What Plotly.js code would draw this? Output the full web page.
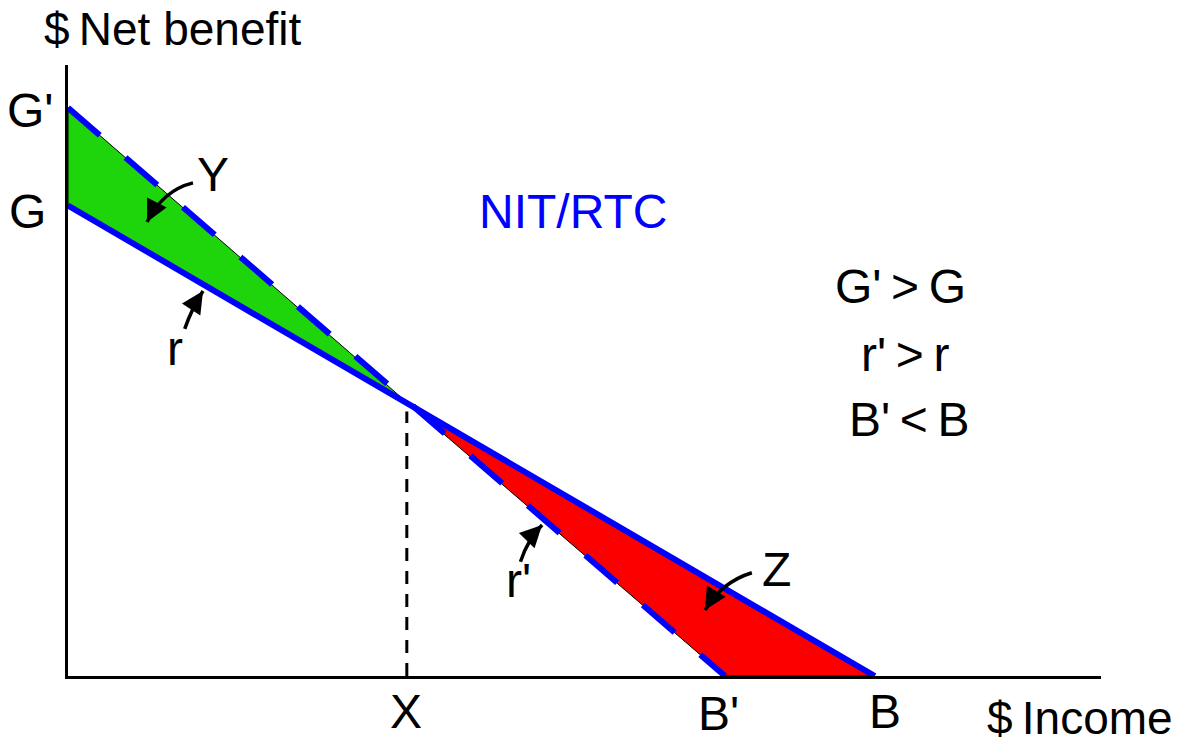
<!DOCTYPE html>
<html>
<head>
<meta charset="utf-8">
<script src="https://cdn.plot.ly/plotly-3.0.1.min.js"></script>
<style>html,body{margin:0;padding:0;background:#fff;}#chart{width:1190px;height:743px;}</style>
</head>
<body>
<div id="chart"></div>
<script>
// ---- data (income on x, net benefit on y; arbitrary $ units, axes run 0..100) ----
var G = 77.0;        // guaranteed benefit, original scheme
var Gp = 93.0;       // guaranteed benefit, new scheme (G')
var B = 78.1;        // break-even income, original
var Bp = 63.6;       // break-even income, new (B')
var X = 32.8;        // income where both schedules cross
var Y0 = 44.8;       // net benefit at X

// area Y (green) and area Z (red)
var areaYx = [0, 0, X, 0];
var areaYy = [Gp, G, Y0, Gp];
var areaZx = [X, Bp, B, X];
var areaZy = [Y0, 0, 0, Y0];

// schedule lines
var solidX = [0, B];  var solidY = [G, 0];
var dashX = [0, Bp];  var dashY = [Gp, 0];
var dropX = [X, X];   var dropY = [0, Y0 - 1.5];

// text labels (positions in axis units)
var labelText = ["$\u2009Net benefit", "G'", "G", "Y", "r", "NIT/RTC", "G'\u2009>\u2009G", "r'\u2009>\u2009r", "B'\u2009<\u2009B", "X", "B'", "B", "$\u2009Income", "Z", "r'"];
var labelX = [10.1, -3.6, -3.9, 14.0, 10.4, 48.9, 80.6, 81.0, 81.4, 32.7, 63.0, 79.1, 98.0, 68.6, 43.6];
var labelY = [105.9, 92.5, 76.0, 82.0, 53.6, 76.1, 63.8, 52.6, 42.0, -5.8, -6.1, -5.8, -6.8, 17.5, 15.6];
var labelSize = [46, 48, 48, 48, 48, 48, 48, 48, 48, 48, 48, 48, 46, 48, 48];
var labelColor = ["#000", "#000", "#000", "#000", "#000", "#0000ff", "#000", "#000", "#000", "#000", "#000", "#000", "#000", "#000", "#000"];

// curved pointer arrows: tail, control, head
var arrowTailX = [12.1, 11.3, 43.8, 66.2];
var arrowTailY = [80.7, 56.8, 18.7, 16.9];
var arrowCtrlX = [9.2, 12.0, 44.5, 63.3];
var arrowCtrlY = [79.5, 60.2, 22.3, 15.4];
var arrowHeadX = [7.65, 13.07, 45.89, 61.67];
var arrowHeadY = [74.3, 63.0, 24.7, 10.8];

var FONT = "Liberation Sans, Arial, Helvetica, sans-serif";
var BLUE = "#0000ff";

var traces = [
  {x: areaYx, y: areaYy, mode: "lines", fill: "toself", fillcolor: "#1ed40a",
   line: {color: "#000", width: 1}, hoverinfo: "skip"},
  {x: areaZx, y: areaZy, mode: "lines", fill: "toself", fillcolor: "#fc0000",
   line: {color: "#000", width: 1}, hoverinfo: "skip"},
  {x: dropX, y: dropY, mode: "lines", line: {color: "#000", width: 3, dash: "13px,10px"}, hoverinfo: "skip"},
  {x: solidX, y: solidY, mode: "lines", line: {color: BLUE, width: 6}, hoverinfo: "skip"},
  {x: dashX, y: dashY, mode: "lines", line: {color: BLUE, width: 6, dash: "42px,34px"}, hoverinfo: "skip"}
];

var XR = [0, 100], YR = [0, 100];
function px(v) { return (v - XR[0]) / (XR[1] - XR[0]); }
function py(v) { return (v - YR[0]) / (YR[1] - YR[0]); }

var annotations = [];
for (var i = 0; i < labelText.length; i++) {
  annotations.push({x: px(labelX[i]), y: py(labelY[i]), xref: "paper", yref: "paper", text: labelText[i],
    showarrow: false, xanchor: "center", yanchor: "middle",
    font: {family: FONT, size: labelSize[i], color: labelColor[i]}});
}
var shapes = [];
for (var k = 0; k < arrowTailX.length; k++) {
  shapes.push({type: "path", xref: "x", yref: "y",
    path: "M" + arrowTailX[k] + "," + arrowTailY[k] + " Q" + arrowCtrlX[k] + "," + arrowCtrlY[k] + " " + arrowHeadX[k] + "," + arrowHeadY[k],
    line: {color: "#000", width: 3.5}});
  annotations.push({x: arrowHeadX[k], y: arrowHeadY[k], xref: "x", yref: "y",
    ax: arrowCtrlX[k] + (arrowHeadX[k] - arrowCtrlX[k]) * 0.4, ay: arrowCtrlY[k] + (arrowHeadY[k] - arrowCtrlY[k]) * 0.4,
    axref: "x", ayref: "y", text: "", showarrow: true, arrowhead: 2, arrowsize: 1.25, arrowwidth: 3.5, arrowcolor: "#000"});
}

var layout = {
  width: 1190, height: 743,
  margin: {l: 68, r: 89, t: 65, b: 67},
  paper_bgcolor: "#fff", plot_bgcolor: "#fff",
  showlegend: false,
  xaxis: {range: XR, showgrid: false, zeroline: false, showticklabels: false, ticks: "",
          showline: true, linecolor: "#000", linewidth: 3, fixedrange: true},
  yaxis: {range: YR, showgrid: false, zeroline: false, showticklabels: false, ticks: "",
          showline: true, linecolor: "#000", linewidth: 3, fixedrange: true},
  annotations: annotations,
  shapes: shapes
};

Plotly.newPlot("chart", traces, layout, {staticPlot: true, displayModeBar: false});
</script>
</body>
</html>
